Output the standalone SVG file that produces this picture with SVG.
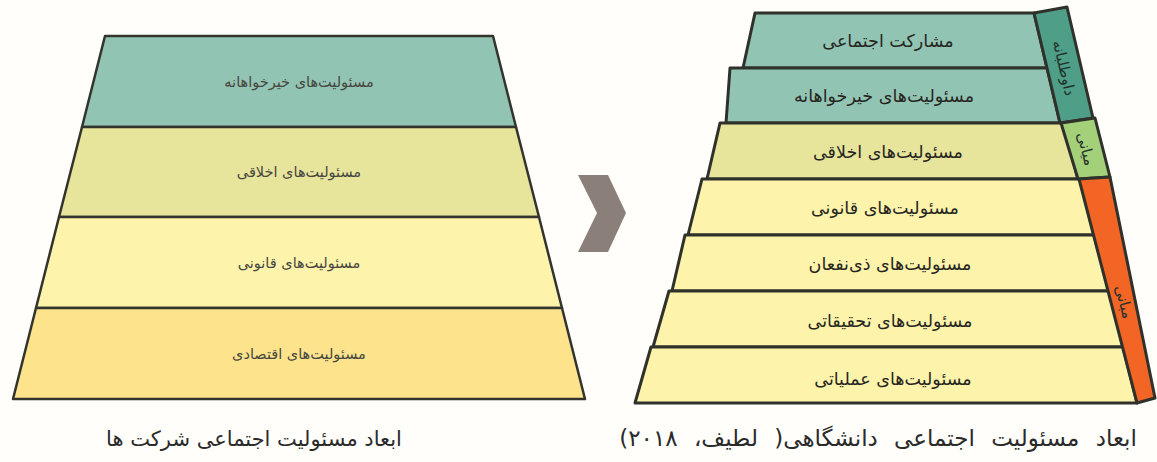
<svg xmlns="http://www.w3.org/2000/svg" width="1157" height="462" viewBox="0 0 1157 462">
<style>
.bg{fill:#fffefb}
.ls{stroke:#34342e;stroke-width:2.5;stroke-linejoin:round}
.rs{stroke:#2f312b;stroke-width:3;stroke-linejoin:round}
.t1{fill:#92c4b4}.t2{fill:#e7e49b}.t3{fill:#fdf3aa}.t4{fill:#fde38c}
.lt{font-family:'DejaVu Sans',sans-serif;font-size:14.5px;fill:#46463f;text-anchor:middle;direction:rtl}
.rt{font-family:'DejaVu Sans',sans-serif;font-size:17.5px;fill:#26261f;text-anchor:middle;direction:rtl}
.bt{font-family:'DejaVu Sans',sans-serif;font-size:15px;fill:#1f332c;text-anchor:middle;direction:rtl}
.cap{font-family:'DejaVu Sans',sans-serif;font-size:21px;fill:#2a2a2a;text-anchor:middle;direction:rtl}
</style>
<rect class="bg" x="0" y="0" width="1157" height="462"/>
<g id="left-pyramid">
<g id="l1"><polygon class="ls t1" points="105,36 493,36 516,127 82,127"/><text class="lt" x="299" y="87">مسئولیت&#x200C;های خیرخواهانه</text></g>
<g id="l2"><polygon class="ls t2" points="82,127 516,127 539,217 59,217"/><text class="lt" x="299" y="177">مسئولیت&#x200C;های اخلاقی</text></g>
<g id="l3"><polygon class="ls t3" points="59,217 539,217 562,308 36,308"/><text class="lt" x="299" y="268">مسئولیت&#x200C;های قانونی</text></g>
<g id="l4"><polygon class="ls t4" points="36,308 562,308 585,399 13,399"/><text class="lt" x="299" y="359">مسئولیت&#x200C;های اقتصادی</text></g>
</g>
<g id="connectors">
<polygon id="chevron" points="578,175 608,175 626,213 608,252 578,252 597,213" fill="#8b7f7a"/>
</g>
<g id="right-pyramid">
<g id="r1"><polygon class="rs t1" points="755,13 1034,13 1047,68 743,68"/><text class="rt" x="888" y="47">مشارکت اجتماعی</text></g>
<g id="r2"><polygon class="rs t1" points="730,68 1047,68 1060,123 726,123"/><text class="rt" x="884" y="102">مسئولیت&#x200C;های خیرخواهانه</text></g>
<g id="r3"><polygon class="rs t2" points="720,123 1063,123 1078,179 707,179"/><text class="rt" x="888" y="158">مسئولیت&#x200C;های اخلاقی</text></g>
<g id="r4"><polygon class="rs t3" points="702,179 1080,179 1094,235 688,235"/><text class="rt" x="885" y="214">مسئولیت&#x200C;های قانونی</text></g>
<g id="r5"><polygon class="rs t3" points="685,235 1094,235 1109,291 672,291"/><text class="rt" x="890" y="270">مسئولیت&#x200C;های ذی&#x200C;نفعان</text></g>
<g id="r6"><polygon class="rs t3" points="669,291 1109,291 1123,347 653,347"/><text class="rt" x="890" y="327">مسئولیت&#x200C;های تحقیقاتی</text></g>
<g id="r7"><polygon class="rs t3" points="651,347 1123,347 1137,403 635,403"/><text class="rt" x="893" y="385">مسئولیت&#x200C;های عملیاتی</text></g>
</g>
<g id="bands">
<g id="b1"><polygon class="rs" fill="#4f9e87" points="1034,13 1067,7 1093,118 1060,123"/><text class="bt" transform="translate(1064,68) rotate(77)" x="0" y="5">داوطلبانه</text></g>
<g id="b2"><polygon class="rs" fill="#a5d07a" points="1061,123 1095,118 1110,177 1078,179"/><text class="bt" transform="translate(1086,149) rotate(76)" x="0" y="5">میانی</text></g>
<g id="b3"><polygon class="rs" fill="#f26524" points="1079,179 1110,177 1155,398 1137,403"/><text class="bt" transform="translate(1124,302) rotate(76)" x="0" y="5">مبانی</text></g>
</g>
<g id="captions">
<text class="cap" x="254" y="446">ابعاد مسئولیت اجتماعی شرکت ها</text>
<text class="cap" x="878" y="446" style="font-size:23px;word-spacing:9px">ابعاد مسئولیت اجتماعی دانشگاهی( لطیف، ۲۰۱۸)</text>
</g>
</svg>
